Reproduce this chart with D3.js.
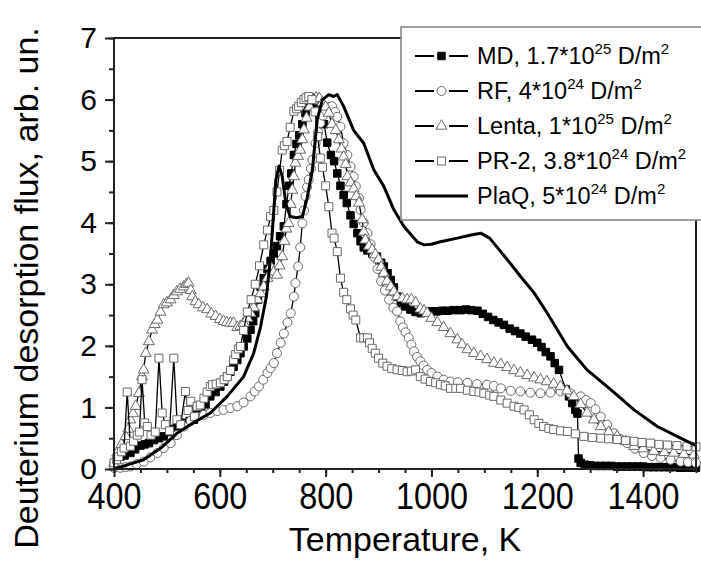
<!DOCTYPE html>
<html lang="en">
<head>
<meta charset="UTF-8">
<title>TDS spectra</title>
<script src="https://d3js.org/d3.v7.min.js"></script>
<style>
    body { margin: 0; background: #fff; }
    text { font-family: "Liberation Sans", Arial, sans-serif; fill: #000; }
</style>
</head>
<body>
<script>
    const width = 701, height = 561;

    const xMajor = [400, 600, 800, 1000, 1200, 1400];
    const xMinor = d3.range(400, 1501, 50);
    const yMajor = [0, 1, 2, 3, 4, 5, 6, 7];
    const yMinor = d3.range(0, 7.01, 0.5);

    // readings [T, flux] per sample
    const mdData = [[400,0.08],[405,0.15],[412,0.2],[420,0.22],[431,0.26],[440,0.32],[450,0.38],[458,0.4],[466,0.42],[475,0.47],[485,0.5],[494,0.53],[505,0.6],[512,0.65],[519,0.69],[527,0.72],[535,0.75],[543,0.78],[551,0.8],[558,0.88],[565,0.95],[573,1.05],[582,1.18],[592,1.25],[601,1.34],[608,1.42],[614,1.5],[620,1.58],[626,1.66],[633,1.77],[639,1.88],[645,1.99],[652,2.12],[658,2.26],[663,2.4],[667,2.53],[672,2.75],[677,2.96],[683,3.1],[690,3.25],[696,3.38],[702,3.5],[708,3.62],[714,3.78],[721,3.94],[726,4.3],[731,4.6],[735,4.8],[740,5.1],[745,5.28],[750,5.42],[756,5.6],[762,5.78],[767,5.88],[772,5.96],[777,6.03],[783,5.95],[790,5.8],[797,5.6],[803,5.3],[810,5.1],[816,5.0],[822,4.8],[828,4.6],[834,4.45],[840,4.32],[847,4.12],[853,3.98],[860,3.83],[866,3.7],[872,3.6],[879,3.55],[888,3.5],[897,3.45],[905,3.35],[910,3.29],[917,3.18],[923,3.07],[929,2.95],[935,2.8],[942,2.7],[950,2.64],[960,2.59],[970,2.55],[980,2.53],[990,2.55],[1000,2.56],[1010,2.56],[1020,2.57],[1030,2.57],[1042,2.58],[1055,2.58],[1065,2.59],[1075,2.58],[1087,2.57],[1097,2.52],[1107,2.47],[1117,2.42],[1127,2.38],[1137,2.34],[1148,2.28],[1158,2.24],[1168,2.2],[1178,2.15],[1190,2.1],[1200,2.05],[1208,1.98],[1216,1.9],[1225,1.83],[1233,1.72],[1241,1.61],[1254,1.29],[1260,1.18],[1266,1.07],[1272,0.96],[1276,0.9],[1278,0.17],[1282,0.1],[1290,0.07],[1300,0.06],[1310,0.05],[1320,0.05],[1330,0.05],[1340,0.05],[1350,0.04],[1360,0.04],[1370,0.04],[1380,0.04],[1390,0.04],[1400,0.04],[1410,0.03],[1420,0.03],[1430,0.03],[1440,0.03],[1450,0.03],[1460,0.03],[1470,0.02],[1480,0.02],[1490,0.02],[1500,0.02]];

    const rfData = [[400,0.02],[412,0.02],[422,0.03],[431,0.04],[443,0.08],[456,0.12],[469,0.19],[482,0.26],[494,0.34],[507,0.42],[519,0.55],[532,0.69],[545,0.78],[557,0.85],[570,0.88],[582,0.91],[595,0.94],[607,0.96],[620,0.99],[633,1.02],[645,1.08],[658,1.18],[666,1.26],[674,1.34],[682,1.45],[690,1.56],[696,1.64],[702,1.72],[708,1.88],[715,2.05],[721,2.2],[728,2.38],[734,2.53],[740,2.8],[743,3.02],[748,3.29],[752,3.6],[756,3.99],[759,4.2],[762,4.43],[765,4.58],[768,4.7],[772,4.88],[775,5.02],[781,5.29],[786,5.47],[790,5.62],[795,5.74],[800,5.83],[806,5.88],[812,5.89],[818,5.8],[822,5.72],[828,5.56],[834,5.29],[841,5.1],[847,4.91],[853,4.75],[857,4.59],[863,4.4],[866,4.21],[872,4.0],[879,3.83],[885,3.65],[891,3.45],[898,3.25],[905,3.05],[912,2.9],[920,2.75],[928,2.62],[935,2.56],[941,2.4],[946,2.3],[951,2.22],[957,2.13],[962,2.02],[967,1.91],[973,1.82],[979,1.75],[985,1.68],[992,1.61],[1000,1.56],[1011,1.5],[1023,1.45],[1036,1.42],[1050,1.41],[1068,1.4],[1086,1.38],[1105,1.37],[1118,1.35],[1131,1.31],[1150,1.27],[1168,1.26],[1187,1.24],[1206,1.23],[1225,1.24],[1244,1.26],[1262,1.23],[1282,1.18],[1292,1.12],[1301,1.07],[1310,0.97],[1320,0.85],[1332,0.72],[1345,0.58],[1357,0.49],[1370,0.42],[1385,0.33],[1401,0.26],[1417,0.21],[1433,0.18],[1452,0.15],[1471,0.12],[1485,0.11],[1500,0.1]];

    const lentaData = [[400,0.1],[406,0.26],[414,0.4],[422,0.53],[427,0.65],[431,0.8],[436,0.9],[441,1.02],[447,1.23],[453,1.5],[456,1.61],[460,1.88],[466,2.07],[472,2.26],[477,2.35],[482,2.42],[488,2.55],[494,2.67],[500,2.7],[507,2.75],[513,2.82],[519,2.88],[525,2.92],[532,2.96],[537,3.0],[541,3.02],[545,2.9],[548,2.8],[554,2.72],[560,2.67],[568,2.62],[576,2.59],[584,2.52],[592,2.48],[600,2.43],[607,2.4],[613,2.38],[620,2.37],[626,2.37],[633,2.3],[639,2.32],[645,2.37],[652,2.45],[658,2.53],[664,2.62],[671,2.75],[677,2.85],[683,2.96],[690,3.1],[696,3.29],[702,3.2],[708,3.15],[713,3.3],[718,3.45],[722,3.7],[726,3.9],[730,3.99],[734,4.3],[737,4.53],[740,4.75],[743,4.97],[748,5.08],[752,5.18],[756,5.35],[759,5.51],[764,5.7],[770,5.88],[776,5.98],[782,6.03],[788,6.02],[794,5.95],[800,5.88],[806,5.78],[812,5.6],[819,5.5],[825,5.35],[830,5.2],[834,5.07],[838,4.95],[841,4.75],[847,4.65],[853,4.55],[858,4.43],[863,4.32],[869,4.05],[872,3.85],[875,3.72],[882,3.62],[888,3.56],[894,3.48],[900,3.4],[905,3.28],[910,3.18],[916,3.05],[923,2.96],[929,2.88],[935,2.8],[945,2.77],[954,2.75],[962,2.75],[970,2.7],[979,2.6],[986,2.57],[992,2.53],[1000,2.45],[1011,2.38],[1023,2.3],[1036,2.2],[1049,2.1],[1058,2.02],[1068,1.94],[1080,1.88],[1093,1.83],[1105,1.78],[1118,1.72],[1131,1.7],[1143,1.65],[1156,1.6],[1168,1.56],[1181,1.52],[1194,1.48],[1206,1.45],[1218,1.42],[1231,1.38],[1244,1.34],[1256,1.27],[1269,1.18],[1282,1.05],[1294,0.91],[1307,0.8],[1320,0.69],[1335,0.6],[1351,0.53],[1367,0.45],[1383,0.37],[1400,0.33],[1420,0.29],[1440,0.27],[1458,0.26],[1477,0.24],[1496,0.23]];

    const pr2Data = [[400,0.1],[405,0.15],[409,0.2],[414,0.28],[419,0.34],[425,1.25],[431,0.37],[437,0.45],[444,0.55],[448,0.6],[453,1.45],[458,0.75],[463,0.69],[470,0.55],[478,0.6],[485,1.8],[491,0.91],[497,0.72],[505,0.62],[513,1.8],[519,0.8],[526,0.72],[535,1.26],[540,0.95],[545,1.1],[552,0.85],[557,1.02],[563,1.04],[570,1.15],[576,1.25],[582,1.34],[586,1.37],[593,1.38],[601,1.4],[608,1.45],[614,1.5],[620,1.6],[626,1.77],[630,1.86],[635,1.95],[639,1.99],[645,2.25],[652,2.55],[659,2.75],[667,3.0],[675,3.3],[683,3.64],[690,3.88],[696,4.1],[702,4.2],[708,4.5],[713,4.85],[718,5.18],[722,5.25],[727,5.32],[733,5.55],[740,5.81],[745,5.85],[749,5.89],[754,5.95],[759,6.0],[763,6.03],[768,6.05],[774,6.0],[780,5.8],[785,5.4],[790,5.05],[794,4.9],[800,4.6],[806,4.26],[812,3.83],[816,3.75],[822,3.53],[828,3.1],[834,2.87],[840,2.75],[847,2.6],[852,2.5],[857,2.42],[866,2.13],[872,2.13],[879,2.13],[883,2.05],[888,1.96],[894,1.88],[900,1.8],[908,1.72],[916,1.67],[925,1.63],[935,1.61],[945,1.6],[954,1.58],[962,1.59],[970,1.61],[979,1.5],[988,1.46],[998,1.42],[1008,1.4],[1017,1.37],[1026,1.35],[1036,1.31],[1046,1.31],[1055,1.31],[1068,1.28],[1080,1.26],[1090,1.25],[1099,1.23],[1110,1.2],[1118,1.18],[1131,1.12],[1143,1.07],[1156,1.02],[1165,1.0],[1175,0.96],[1185,0.88],[1194,0.8],[1203,0.74],[1212,0.69],[1222,0.66],[1231,0.64],[1244,0.62],[1257,0.61],[1272,0.57],[1288,0.53],[1304,0.51],[1320,0.5],[1335,0.49],[1351,0.48],[1367,0.46],[1383,0.45],[1398,0.43],[1414,0.42],[1430,0.4],[1446,0.39],[1464,0.38],[1483,0.37],[1500,0.36]];

    const plaqData = [[400,0.0],[430,0.08],[456,0.15],[490,0.35],[519,0.58],[550,0.75],[582,0.91],[614,1.18],[645,1.5],[664,1.88],[677,2.31],[688,2.8],[696,3.45],[702,4.2],[706,4.7],[712,4.92],[718,4.75],[725,4.3],[733,4.1],[745,4.08],[756,4.1],[765,4.4],[775,4.86],[784,5.67],[794,6.0],[806,6.08],[815,6.05],[822,6.08],[834,5.89],[853,5.5],[872,5.29],[891,4.86],[910,4.59],[929,4.21],[948,3.94],[973,3.69],[986,3.64],[1000,3.65],[1017,3.69],[1049,3.75],[1075,3.8],[1093,3.83],[1110,3.75],[1131,3.53],[1150,3.33],[1168,3.13],[1194,2.86],[1219,2.53],[1257,1.99],[1294,1.61],[1339,1.29],[1383,0.96],[1427,0.69],[1471,0.5],[1500,0.38]];

    const legendMain = ["MD, 1.7*10", "RF, 4*10", "Lenta, 1*10", "PR-2, 3.8*10", "PlaQ, 5*10"];
    const legendExp = ["25", "24", "25", "24", "24"];

    const x = d3.scaleLinear().domain([400, 1500]).range([114, 696]);
    const y = d3.scaleLinear().domain([0, 7]).range([469, 38]);

    const svg = d3.select("body")
        .append("svg")
        .attr("width", width)
        .attr("height", height);

    const line = d3.line()
        .x(function (d) { return x(d[0]); })
        .y(function (d) { return y(d[1]); });

    const grey = "#6a6a6a";
    const series = [
        {data: mdData, symbol: d3.symbolSquare, size: 56, fill: "#000", stroke: "#000", lw: 1.3},
        {data: rfData, symbol: d3.symbolCircle, size: 64, fill: "#fff", stroke: grey, lw: 1.3},
        {data: lentaData, symbol: d3.symbolTriangle, size: 52, fill: "#fff", stroke: grey, lw: 1.3},
        {data: pr2Data, symbol: d3.symbolSquare, size: 64, fill: "#fff", stroke: grey, lw: 1.3},
        {data: plaqData, symbol: null, lw: 3}
    ];

    let plot = svg.append("g");

    series.forEach(function (s) {
        plot.append("path")
            .datum(s.data)
            .attr("fill", "none")
            .attr("stroke", "#000")
            .attr("stroke-width", s.lw)
            .attr("stroke-linejoin", "round")
            .attr("d", line);
        if (s.symbol) {
            plot.selectAll(null)
                .data(s.data)
                .enter().append("path")
                .attr("transform", function (d) { return "translate(" + x(d[0]) + "," + y(d[1]) + ")"; })
                .attr("d", d3.symbol().type(s.symbol).size(s.size))
                .attr("fill", s.fill)
                .attr("stroke", s.stroke)
                .attr("stroke-width", 1);
        }
    });

    // axes
    const axisColor = "#222";
    const xMinorAxis = svg.append("g")
        .attr("transform", "translate(0,469)")
        .call(d3.axisBottom(x).tickValues(xMinor).tickSize(4).tickFormat(""));
    const xAxis = svg.append("g")
        .attr("transform", "translate(0,469)")
        .call(d3.axisBottom(x).tickValues(xMajor).tickSize(8).tickPadding(6).tickFormat(d3.format("d")));
    const yMinorAxis = svg.append("g")
        .attr("transform", "translate(114,0)")
        .call(d3.axisLeft(y).tickValues(yMinor).tickSize(5).tickFormat(""));
    const yAxis = svg.append("g")
        .attr("transform", "translate(114,0)")
        .call(d3.axisLeft(y).tickValues(yMajor).tickSize(9).tickPadding(8).tickFormat(d3.format("d")));

    [xMinorAxis, xAxis, yMinorAxis, yAxis].forEach(function (a) {
        a.select(".domain").remove();
        a.selectAll("line").attr("stroke", axisColor).attr("stroke-width", 2);
        a.attr("font-family", null).attr("font-size", null);
    });

    xAxis.selectAll("text")
        .attr("font-size", 37)
        .attr("fill", "#000")
        .attr("textLength", function (d) { return String(d).length * 18; })
        .attr("lengthAdjust", "spacingAndGlyphs");
    yAxis.selectAll("text")
        .attr("font-size", 30)
        .attr("fill", "#000");

    svg.append("rect")
        .attr("x", 114).attr("y", 38)
        .attr("width", 582).attr("height", 431)
        .attr("fill", "none")
        .attr("stroke", axisColor)
        .attr("stroke-width", 2);

    svg.append("text")
        .attr("x", 405).attr("y", 551)
        .attr("text-anchor", "middle")
        .attr("font-size", 34)
        .text("Temperature, K");

    svg.append("text")
        .attr("transform", "translate(38,288) rotate(-90)")
        .attr("text-anchor", "middle")
        .attr("font-size", 34)
        .text("Deuterium desorption flux, arb. un.");

    // legend
    const legend = svg.append("g");
    legend.append("rect")
        .attr("x", 401).attr("y", 27)
        .attr("width", 320).attr("height", 193)
        .attr("fill", "#fff")
        .attr("stroke", "#808080")
        .attr("stroke-width", 1.5);

    series.forEach(function (s, i) {
        const cy = 56 + i * 35;
        const g = legend.append("g");
        if (s.symbol) {
            g.append("line").attr("x1", 415).attr("x2", 434).attr("y1", cy).attr("y2", cy)
                .attr("stroke", "#000").attr("stroke-width", 2);
            g.append("line").attr("x1", 449).attr("x2", 468).attr("y1", cy).attr("y2", cy)
                .attr("stroke", "#000").attr("stroke-width", 2);
            g.append("path")
                .attr("transform", "translate(441.5," + cy + ")")
                .attr("d", d3.symbol().type(s.symbol).size(s.size))
                .attr("fill", s.fill)
                .attr("stroke", s.stroke)
                .attr("stroke-width", 1);
        } else {
            g.append("line").attr("x1", 415).attr("x2", 468).attr("y1", cy).attr("y2", cy)
                .attr("stroke", "#000").attr("stroke-width", 3);
        }
        const t = g.append("text")
            .attr("x", 477).attr("y", cy + 8)
            .attr("font-size", 23.5);
        t.append("tspan").text(legendMain[i]);
        t.append("tspan").attr("font-size", 15).attr("dy", -10).text(legendExp[i]);
        t.append("tspan").attr("dy", 10).text(" D/m");
        t.append("tspan").attr("font-size", 15).attr("dy", -10).text("2");
    });
</script>
</body>
</html>
